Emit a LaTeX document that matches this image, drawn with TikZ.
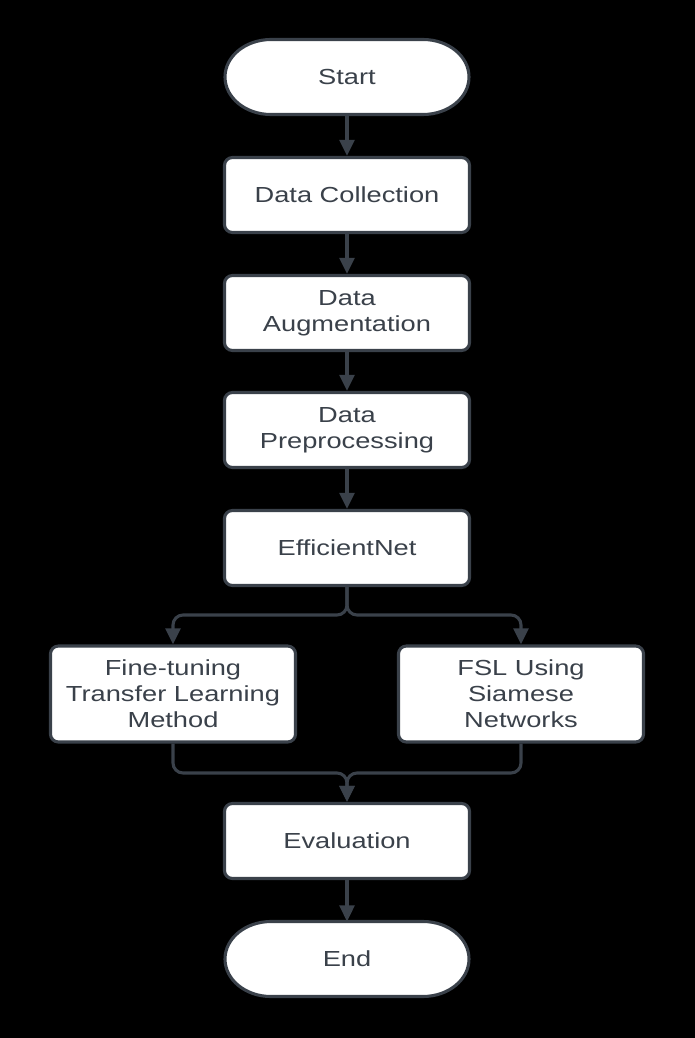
\documentclass[tikz,border=0pt]{standalone}
\usepackage{fontspec}
\setmainfont{Liberation Sans}[FakeStretch=1.25]
\usetikzlibrary{arrows.meta,calc,backgrounds}
\definecolor{inkgray}{HTML}{3A414A}

\begin{document}
\begin{tikzpicture}[
  x=0.025cm, y=0.025cm,
  >={Triangle[length=0.4cm, width=0.37cm]},
  stepbox/.style={draw=inkgray, fill=white, line width=2.2pt, rounded corners=0.2cm,
    minimum width=6.125cm, minimum height=1.875cm, align=center, text=inkgray,
    font=\fontsize{15.5}{18.5}\selectfont},
  widebox/.style={stepbox, minimum height=2.4cm},
  termbox/.style={stepbox, draw=none, fill=none, outer sep=0pt},
  termline/.style={draw=inkgray, fill=white, line width=2.2pt},
  flow/.style={->, draw=inkgray, line width=2.2pt, rounded corners=0.25cm},
]
  % Main column
  \node[termbox] (start) at (347,-77) {Start};
  \node[stepbox] (coll) at (347,-195) {Data Collection};
  \node[stepbox] (aug) at (347,-313) {Data\\Augmentation};
  \node[stepbox] (pre) at (347,-430) {Data\\Preprocessing};
  \node[stepbox] (eff) at (347,-548) {EfficientNet};

  % Two branches
  \node[widebox] (fine) at (173,-694) {Fine-tuning\\Transfer Learning\\Method};
  \node[widebox] (fsl) at (521,-694) {FSL Using\\Siamese\\Networks};

  \node[stepbox] (eval) at (347,-841) {Evaluation};
  \node[termbox] (stop) at (347,-959) {End};

  % Junctions
  \coordinate (split) at (347,-615);
  \coordinate (merge) at (347,-773);

  % Connectors
  \draw[flow] (start.south) -- (coll.north);
  \draw[flow] (coll.south) -- (aug.north);
  \draw[flow] (aug.south) -- (pre.north);
  \draw[flow] (pre.south) -- (eff.north);
  \draw[flow] (eff.south) -- (split) -| (fine.north);
  \draw[flow] (eff.south) -- (split) -| (fsl.north);
  \draw[flow] (fine.south) |- (merge) -- (eval.north);
  \draw[flow] (fsl.south) |- (merge) -- (eval.north);
  \draw[flow] (eval.south) -- (stop.north);

  % Background and terminal outlines
  \begin{scope}[on background layer]
    \fill[black] (0,0) rectangle (695,-1038);
    \foreach \t in {start,stop}
      \draw[termline] ($(\t.north)+(-76,0)$) -- ($(\t.north)+(76,0)$)
        arc[start angle=90, end angle=-90, x radius=46, y radius=37.5]
        -- ($(\t.south)+(-76,0)$)
        arc[start angle=270, end angle=90, x radius=46, y radius=37.5] -- cycle;
  \end{scope}

\end{tikzpicture}
\end{document}
